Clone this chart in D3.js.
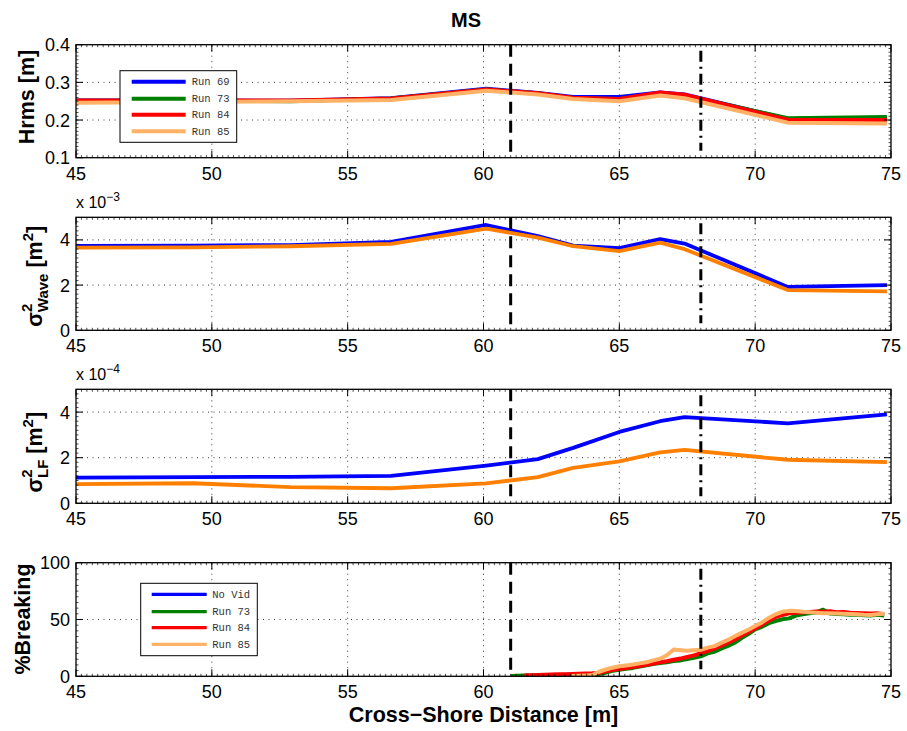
<!DOCTYPE html>
<html>
<head>
<meta charset="utf-8">
<script src="https://cdn.jsdelivr.net/npm/d3@7"></script>
<style>
  body { margin: 0; background: #fff; }
  svg { display: block; }
</style>
</head>
<body>
<svg id="chart" width="907" height="731"></svg>
<script>
// ---- data -------------------------------------------------------------
// Gauge positions along the flume [m]
const gaugeX = [45.0, 49.3, 52.9, 56.6, 60.1, 62.0, 63.3, 65.0, 66.5, 67.4, 71.2, 74.85];

// Hrms [m] per run
const hrmsRun69 = [0.252, 0.252, 0.251, 0.258, 0.283, 0.272, 0.261, 0.261, 0.273, 0.268, 0.203, 0.206];
const hrmsRun73 = [0.251, 0.251, 0.250, 0.257, 0.281, 0.271, 0.258, 0.256, 0.271, 0.265, 0.205, 0.208];
const hrmsRun84 = [0.252, 0.252, 0.252, 0.257, 0.281, 0.271, 0.259, 0.256, 0.273, 0.267, 0.201, 0.200];
const hrmsRun85 = [0.246, 0.248, 0.250, 0.253, 0.278, 0.268, 0.256, 0.250, 0.265, 0.258, 0.193, 0.191];

// Incident-band variance, units of 1e-3 m^2
const waveVarRun69 = [3.73, 3.75, 3.77, 3.91, 4.66, 4.17, 3.75, 3.64, 4.03, 3.84, 1.92, 2.00];
const waveVarRun85 = [3.66, 3.67, 3.72, 3.82, 4.50, 4.10, 3.72, 3.50, 3.88, 3.59, 1.78, 1.72];

// Low-frequency variance, units of 1e-4 m^2
const lfVarRun69 = [1.13, 1.15, 1.16, 1.20, 1.65, 1.94, 2.43, 3.13, 3.60, 3.78, 3.51, 3.90];
const lfVarRun85 = [0.84, 0.88, 0.71, 0.66, 0.87, 1.15, 1.55, 1.84, 2.23, 2.34, 1.91, 1.81];

// Percent of breaking waves from video, per cross-shore position
const breakX = [60.75, 61, 61.25, 61.5, 61.75, 62, 62.25, 62.5, 62.75, 63, 63.25, 63.5, 63.75,
  64, 64.25, 64.5, 64.75, 65, 65.25, 65.5, 65.75, 66, 66.25, 66.5, 66.75, 67, 67.25, 67.5, 67.75,
  68, 68.25, 68.5, 68.75, 69, 69.25, 69.5, 69.75, 70, 70.25, 70.5, 70.75, 71, 71.25, 71.5, 71.75,
  72, 72.25, 72.5, 72.75, 73, 73.25, 73.5, 73.75, 74, 74.25, 74.5, 74.75];
const breakRun73 = [null, 0.3, 0.5, 0.6, 0.7, 0.8, 0.8, 0.9, 0.9, 0.9, 1.0, 1.1, 1.3,
  1.6, 2.0, 3.2, 4.8, 5.8, 6.6, 7.4, 8.5, 9.6, 10.8, 11.6, 12.3, 13.4, 14.0, 15.2, 16.4,
  17.6, 20.2, 21.6, 24.4, 26.8, 29.5, 33.6, 37.2, 41.4, 43.6, 46.8, 48.6, 50.2, 51.0, 53.4, 54.6,
  55.4, 56.2, 58.6, 55.2, 54.8, 54.6, 54.2, 54.4, 53.8, 53.6, 54.2, 53.6];
const breakRun84 = [null, null, null, 0.8, 1.0, 1.2, 1.4, 1.6, 1.7, 1.9, 2.0, 2.2, 2.4,
  2.6, 3.0, 4.4, 5.6, 6.4, 7.2, 8.2, 9.0, 10.2, 11.2, 12.4, 13.2, 14.6, 15.6, 17.0, 18.4,
  20.4, 22.4, 24.6, 27.0, 29.6, 32.4, 35.8, 38.8, 42.0, 45.6, 49.0, 52.2, 54.0, 55.4, 56.0, 56.2,
  56.6, 57.0, 56.8, 57.2, 56.4, 56.6, 56.0, 55.8, 55.6, 55.2, 55.4, 54.8];
const breakRun85 = [null, null, null, null, null, null, null, null, null, null, 0.2, 0.4, 0.6,
  1.2, 4.0, 6.0, 7.6, 8.8, 9.6, 10.4, 11.4, 12.4, 14.0, 15.4, 18.6, 23.6, 23.0, 22.4, 23.0,
  23.4, 25.2, 26.6, 29.4, 32.0, 35.2, 38.2, 41.0, 44.2, 47.4, 51.4, 54.6, 56.8, 57.6, 57.4, 56.8,
  56.4, 56.0, 55.6, 55.4, 55.2, 55.0, 54.8, 54.6, 54.2, 54.0, 54.6, 55.0];

// Axis ticks and reference positions
const xTicks = [45, 50, 55, 60, 65, 70, 75];
const hrmsTicks = [0.1, 0.2, 0.3, 0.4];
const waveTicks = [0, 2, 4];
const lfTicks = [0, 2, 4];
const breakTicks = [0, 50, 100];
const breakpointX = 61;   // dashed marker
const shorelineX = 68;    // dash-dot marker

const legendTop = ["Run 69", "Run 73", "Run 84", "Run 85"];
const legendBottom = ["No Vid", "Run 73", "Run 84", "Run 85"];

// ---- styling ----------------------------------------------------------
const C = { blue: "#0000ff", green: "#008000", red: "#ff0000", peach: "#ffb266", orange: "#ff8000" };
const sans = "'Liberation Sans', Arial, Helvetica, sans-serif";
const mono = "'Liberation Mono', 'Courier New', monospace";

const svg = d3.select("#chart");
svg.append("rect").attr("width", 907).attr("height", 731).attr("fill", "#fff");

const x = d3.scaleLinear().domain([45, 75]).range([76, 891]);

function makePanel(id, top, bottom, domain, ticks, fmt) {
  const y = d3.scaleLinear().domain(domain).range([bottom, top]);
  const g = svg.append("g");
  g.append("clipPath").attr("id", "clip" + id)
    .append("rect").attr("x", x.range()[0]).attr("y", top)
    .attr("width", x.range()[1] - x.range()[0]).attr("height", bottom - top);

  // dotted grid
  const grid = g.append("g").attr("stroke", "#3a3a3a").attr("stroke-width", 1)
    .attr("stroke-dasharray", "1,4.5");
  xTicks.slice(1, -1).forEach(t => {
    grid.append("line").attr("x1", x(t)).attr("x2", x(t)).attr("y1", top).attr("y2", bottom);
  });
  ticks.filter(t => t !== domain[0] && t !== domain[1]).forEach(t => {
    grid.append("line").attr("x1", x.range()[0]).attr("x2", x.range()[1])
      .attr("y1", y(t)).attr("y2", y(t));
  });

  const plot = g.append("g").attr("clip-path", `url(#clip${id})`);
  return { g, plot, y, top, bottom, ticks, fmt, domain };
}

function finishPanel(p) {
  const { g, y, top, bottom, ticks, fmt, domain } = p;
  const [x0, x1] = x.range();

  // reference markers
  g.append("line").attr("x1", x(breakpointX)).attr("x2", x(breakpointX))
    .attr("y1", top).attr("y2", bottom)
    .attr("stroke", "#000").attr("stroke-width", 3).attr("stroke-dasharray", "12,7");
  g.append("line").attr("x1", x(shorelineX)).attr("x2", x(shorelineX))
    .attr("y1", top + 6).attr("y2", bottom - 7)
    .attr("stroke", "#000").attr("stroke-width", 3).attr("stroke-dasharray", "11,5,2,5");

  // box
  g.append("rect").attr("x", x0).attr("y", top).attr("width", x1 - x0).attr("height", bottom - top)
    .attr("fill", "none").attr("stroke", "#000").attr("stroke-width", 1.3);

  const tk = g.append("g").attr("stroke", "#000").attr("stroke-width", 1);
  // minor x ticks
  for (let v = 45.2; v < 75; v += 0.2) {
    const px = x(v);
    tk.append("line").attr("x1", px).attr("x2", px).attr("y1", bottom).attr("y2", bottom - 2.5).attr("stroke-width", 0.7);
    tk.append("line").attr("x1", px).attr("x2", px).attr("y1", top).attr("y2", top + 2.5).attr("stroke-width", 0.7);
  }
  // minor y ticks
  const step = (ticks[1] - ticks[0]) / 10;
  for (let v = domain[0] + step; v < domain[1] - step / 2; v += step) {
    tk.append("line").attr("x1", x0).attr("x2", x0 + 2.5).attr("y1", y(v)).attr("y2", y(v)).attr("stroke-width", 0.7);
    tk.append("line").attr("x1", x1).attr("x2", x1 - 2.5).attr("y1", y(v)).attr("y2", y(v)).attr("stroke-width", 0.7);
  }
  // major ticks
  xTicks.forEach(t => {
    tk.append("line").attr("x1", x(t)).attr("x2", x(t)).attr("y1", bottom).attr("y2", bottom - 7);
    tk.append("line").attr("x1", x(t)).attr("x2", x(t)).attr("y1", top).attr("y2", top + 7);
  });
  ticks.forEach(t => {
    tk.append("line").attr("x1", x0).attr("x2", x0 + 7).attr("y1", y(t)).attr("y2", y(t));
    tk.append("line").attr("x1", x1).attr("x2", x1 - 7).attr("y1", y(t)).attr("y2", y(t));
  });

  // tick labels
  const lab = g.append("g").attr("font-family", sans).attr("font-size", 18).attr("fill", "#000");
  xTicks.forEach(t => {
    lab.append("text").attr("x", x(t)).attr("y", bottom + 22).attr("text-anchor", "middle").text(t);
  });
  ticks.forEach(t => {
    lab.append("text").attr("x", x0 - 6).attr("y", y(t)).attr("dy", "0.36em")
      .attr("text-anchor", "end").text(fmt(t));
  });
}

function drawLine(p, xs, ys, color, width) {
  const pts = xs.map((v, i) => [v, ys[i]]);
  const line = d3.line().defined(d => d[1] !== null).x(d => x(d[0])).y(d => p.y(d[1]));
  p.plot.append("path").attr("d", line(pts)).attr("fill", "none")
    .attr("stroke", color).attr("stroke-width", width)
    .attr("stroke-linejoin", "round").attr("stroke-linecap", "butt");
}

function rotatedLabel(xBase, yCenter, build) {
  const g = svg.append("g").attr("transform", `translate(${xBase},${yCenter}) rotate(-90)`);
  const t = g.append("text").attr("font-family", sans).attr("font-weight", "bold")
    .attr("font-size", 21.5).attr("fill", "#000");
  build(t);
  const w = t.node().getComputedTextLength();
  t.attr("x", -w / 2);
  return t;
}

function exponentLabel(top, exp) {
  const t = svg.append("text").attr("x", 76).attr("y", top - 9)
    .attr("font-family", sans).attr("font-size", 16).attr("fill", "#000");
  t.append("tspan").text("x 10");
  t.append("tspan").attr("font-size", 12).attr("dy", -7).text(exp);
}

function legend(x0, y0, w, h, names, colors, lineW, rowY, sample) {
  const g = svg.append("g");
  g.append("rect").attr("x", x0).attr("y", y0).attr("width", w).attr("height", h)
    .attr("fill", "#fff").attr("stroke", "#000").attr("stroke-width", 1);
  names.forEach((n, i) => {
    const yy = rowY[i];
    g.append("line").attr("x1", sample[0]).attr("x2", sample[1]).attr("y1", yy).attr("y2", yy)
      .attr("stroke", colors[i]).attr("stroke-width", lineW);
    g.append("text").attr("x", sample[2]).attr("y", yy).attr("dy", "0.35em")
      .attr("font-family", mono).attr("font-size", 10.5).attr("fill", "#333").text(n);
  });
}

// ---- panel 1: Hrms ----------------------------------------------------
const p1 = makePanel(1, 44.7, 157.7, [0.1, 0.4], hrmsTicks, d => d.toFixed(1));
drawLine(p1, gaugeX, hrmsRun69, C.blue, 4);
drawLine(p1, gaugeX, hrmsRun73, C.green, 4);
drawLine(p1, gaugeX, hrmsRun84, C.red, 4);
drawLine(p1, gaugeX, hrmsRun85, C.peach, 4);
finishPanel(p1);

// ---- panel 2: incident-band variance -----------------------------------
const p2 = makePanel(2, 217.3, 330.3, [0, 5], waveTicks, d => d);
drawLine(p2, gaugeX, waveVarRun69, C.blue, 3.8);
drawLine(p2, gaugeX, waveVarRun85, C.orange, 3.8);
finishPanel(p2);

// ---- panel 3: low-frequency variance -----------------------------------
const p3 = makePanel(3, 389.3, 503.3, [0, 5], lfTicks, d => d);
drawLine(p3, gaugeX, lfVarRun69, C.blue, 3.8);
drawLine(p3, gaugeX, lfVarRun85, C.orange, 3.8);
finishPanel(p3);

// ---- panel 4: percent breaking -----------------------------------------
const p4 = makePanel(4, 562.7, 676.3, [0, 100], breakTicks, d => d);
drawLine(p4, breakX, breakRun73, C.green, 4);
drawLine(p4, breakX, breakRun84, C.red, 4);
drawLine(p4, breakX, breakRun85, C.peach, 4);
finishPanel(p4);

// ---- titles and labels -------------------------------------------------
svg.append("text").attr("x", 466).attr("y", 27).attr("text-anchor", "middle")
  .attr("font-family", sans).attr("font-weight", "bold").attr("font-size", 20).text("MS");

svg.append("text").attr("x", 483.5).attr("y", 722).attr("text-anchor", "middle")
  .attr("font-family", sans).attr("font-weight", "bold").attr("font-size", 21.5)
  .text("Cross\u2212Shore Distance [m]");

rotatedLabel(33.5, 97, t => t.text("Hrms [m]"));
rotatedLabel(29.5, 619, t => t.text("%Breaking"));

function sigmaLabel(t, sub) {
  t.append("tspan").text("\u03c3");
  const sup = t.append("tspan").attr("font-size", 15).attr("dy", -10).text("2");
  t.append("tspan").attr("font-size", 15).attr("dx", -8.5).attr("dy", 16).text(sub);
  t.append("tspan").attr("dy", -6).text(" [m");
  t.append("tspan").attr("font-size", 15).attr("dy", -9).text("2");
  t.append("tspan").attr("dy", 9).text("]");
}
rotatedLabel(41.5, 272, t => sigmaLabel(t, "Wave"));
rotatedLabel(41.5, 448, t => sigmaLabel(t, "LF"));

exponentLabel(217.3, "\u22123");
exponentLabel(389.3, "\u22124");

// ---- legends -----------------------------------------------------------
legend(120, 70.7, 116.7, 71.6, legendTop, [C.blue, C.green, C.red, C.peach], 4,
  [81.7, 98.7, 114.7, 131.3], [131.7, 185.7, 191.7]);
legend(140.7, 583.3, 116.6, 72.4, legendBottom, [C.blue, C.green, C.red, C.peach], 3.2,
  [594.3, 611.7, 627.7, 644.3], [151.7, 206.7, 212.3]);
</script>
</body>
</html>
